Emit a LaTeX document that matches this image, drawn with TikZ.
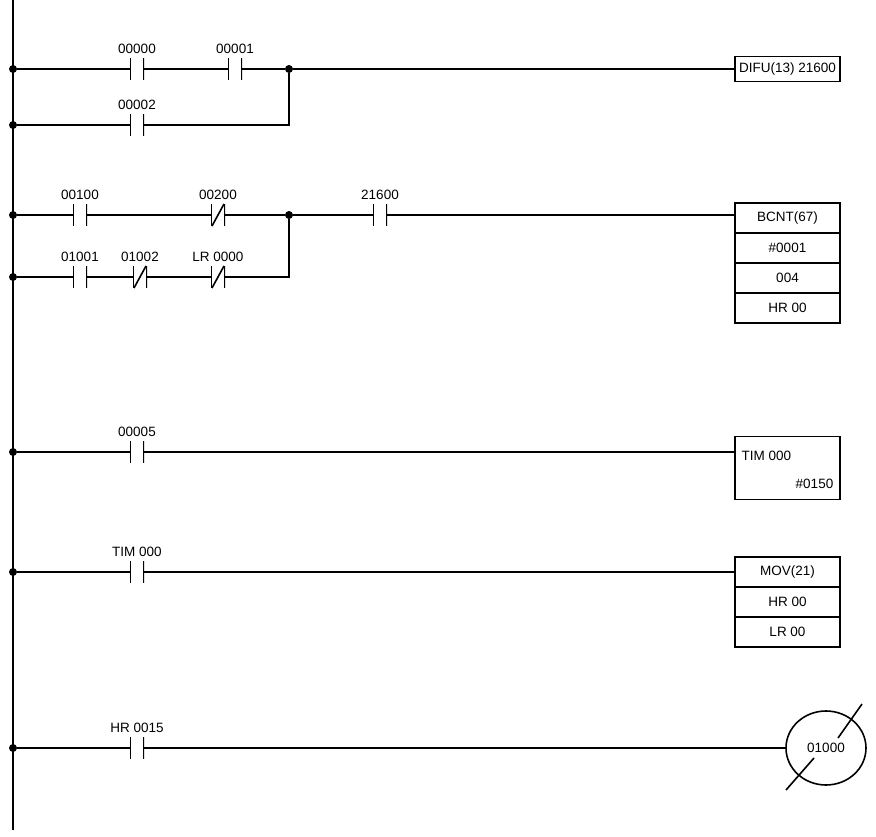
\documentclass[tikz,border=0pt]{standalone}
\usepackage{fontspec}
\setmainfont{Liberation Sans}
\usetikzlibrary{positioning, shapes.geometric}
\tikzset{
	wire/.style = {line width=1.6pt},
	no/.style = {minimum width=14pt, minimum height=22pt, inner sep=0pt,
		label={[label distance=1pt]above:#1},
		path picture={\draw[line width=1.8pt]
			(path picture bounding box.north west) -- (path picture bounding box.south west)
			(path picture bounding box.north east) -- (path picture bounding box.south east);}},
	nc/.style = {no=#1, append after command={
		\pgfextra{\draw[line width=1.6pt] ([xshift=-6pt,yshift=-11pt]\tikzlastnode.center) -- ([xshift=6pt,yshift=11pt]\tikzlastnode.center);}}},
	cell/.style = {draw, line width=1.6pt, minimum width=105pt, minimum height=30pt, inner sep=2pt},
	dot/.style = {circle, fill, inner sep=0pt, minimum size=8pt}
}
\begin{document}
\begin{tikzpicture}[x=1pt, y=-1pt, font=\fontsize{13.5}{16}\selectfont]
	\useasboundingbox (0,0) rectangle (876,837);
	% power rail
	\coordinate (top) at (13,0);
	\coordinate (bot) at (13,830);
	\draw[wire] (top) -- (bot);
	% rung 1
	\node[dot] (r1) at (13,69) {};
	\node[dot] (r1b) at (13,125) {};
	\node[no=00000] (c1) at (137,69) {};
	\node[no=00001] (c2) at (235,69) {};
	\node[no=00002] (c3) at (137,125) {};
	\node[dot] (j1) at (289,69) {};
	\node[cell, minimum height=25pt] (difu) at (787.5,69) {DIFU(13) 21600};
	\draw[wire] (r1) -- (c1) -- (c2) -- (j1) -- (difu);
	\draw[wire] (r1b) -- (c3) -| (j1);
	% rung 2
	\node[dot] (r2) at (13,215) {};
	\node[dot] (r2b) at (13,277) {};
	\node[no=00100] (c4) at (80,215) {};
	\node[nc=00200] (c5) at (218,215) {};
	\node[no=01001] (c6) at (80,277) {};
	\node[nc=01002] (c7) at (140,277) {};
	\node[nc=LR 0000] (c8) at (218,277) {};
	\node[dot] (j2) at (289,215) {};
	\node[no=21600] (c9) at (380,215) {};
	\node[cell] (bcnt) at (787.5,218) {BCNT(67)};
	\node[cell, below=-1.6pt of bcnt] (bcnt2) {\#0001};
	\node[cell, below=-1.6pt of bcnt2] (bcnt3) {004};
	\node[cell, below=-1.6pt of bcnt3] (bcnt4) {HR 00};
	\draw[wire] (r2) -- (c4) -- (c5) -- (j2) -- (c9) -- (c9 -| bcnt.west);
	\draw[wire] (r2b) -- (c6) -- (c7) -- (c8) -| (j2);
	% rung 3
	\node[dot] (r3) at (13,452) {};
	\node[no=00005] (c10) at (137,452) {};
	\node[cell, minimum height=63pt] (tim) at (787.5,468) {};
	\node[anchor=west] at ([xshift=4pt,yshift=12pt]tim.west) {TIM 000};
	\node[anchor=east] at ([xshift=-4pt,yshift=-16pt]tim.east) {\#0150};
	\draw[wire] (r3) -- (c10) -- (c10 -| tim.west);
	% rung 4
	\node[dot] (r4) at (13,572) {};
	\node[no=TIM 000] (c11) at (137,572) {};
	\node[cell] (mov) at (787.5,572) {MOV(21)};
	\node[cell, below=-1.6pt of mov] (mov2) {HR 00};
	\node[cell, below=-1.6pt of mov2] (mov3) {LR 00};
	\draw[wire] (r4) -- (c11) -- (mov);
	% rung 5
	\node[dot] (r5) at (13,748) {};
	\node[no=HR 0015] (c12) at (137,748) {};
	\node[draw, line width=1.6pt, ellipse, minimum width=80pt, minimum height=74pt, inner sep=0pt] (coil) at (826,748) {01000};
	\draw[wire] (r5) -- (c12) -- (coil);
	\draw[wire] ([xshift=-40pt,yshift=-42pt]coil.center) -- ([xshift=-12pt,yshift=-10pt]coil.center)
		([xshift=12pt,yshift=10pt]coil.center) -- ([xshift=36pt,yshift=44pt]coil.center);
\end{tikzpicture}
\end{document}
